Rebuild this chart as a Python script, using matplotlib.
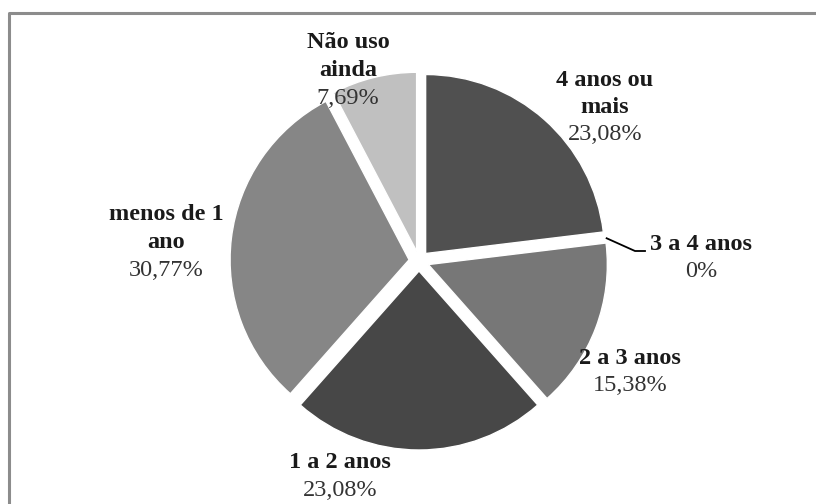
import numpy as np
import matplotlib.pyplot as plt
from matplotlib.lines import Line2D

# data
categories = ["4 anos ou\nmais", "3 a 4 anos", "2 a 3 anos", "1 a 2 anos",
              "menos de 1\nano", "Não uso\nainda"]
values = [23.08, 0.0, 15.38, 23.08, 30.77, 7.69]
pct_labels = ["23,08%", "0%", "15,38%", "23,08%", "30,77%", "7,69%"]
colors = ["#505050", "#9a9a9a", "#777777", "#474747", "#868686", "#c0c0c0"]

# label anchors (pixel coords, centre of first line)
label_pos = [(605, 80), (701, 244), (630, 358), (340, 463), (166, 215), (348, 43)]

W, H = 816, 504
CX, CY, R = 419, 261, 179
OFFSET = 10  # explode distance, pixels
LINE_H = 27.5

plt.rcParams["font.family"] = ["Liberation Serif", "DejaVu Serif"]

fig = plt.figure(figsize=(W / 100, H / 100), dpi=100)
ax = fig.add_axes([0, 0, 1, 1])

# explode is in data units here (pixels)
ax.pie(values, explode=[OFFSET] * len(values), colors=colors,
       startangle=90, counterclock=False, center=(CX, H - CY), radius=R,
       wedgeprops=dict(edgecolor="white", linewidth=1.0))
ax.set_xlim(0, W)
ax.set_ylim(0, H)
ax.set_aspect("equal")
ax.axis("off")

# frame (left and top only visible)
ax.add_line(Line2D([9, 9, W + 5], [-5, H - 13, H - 13], color="#8c8c8c", lw=2.2))

for name, pct, (x, y) in zip(categories, pct_labels, label_pos):
    lines = name.split("\n")
    for i, ln in enumerate(lines):
        ax.text(x, H - (y + i * LINE_H), ln, ha="center", va="center",
                fontsize=17.5, fontweight="bold", color="#1a1a1a")
    ax.text(x, H - (y + len(lines) * LINE_H), pct, ha="center", va="center",
            fontsize=17.5, color="#333333")

# leader line for the zero slice
total = sum(values)
theta = np.deg2rad(360 * sum(values[:1]) / total)
r_edge = R + OFFSET
px = CX + r_edge * np.sin(theta)
py = CY - r_edge * np.cos(theta)
ax.plot([px, 635, 645], [H - py, H - 251, H - 251], color="black", lw=1.3)

fig.savefig("out.png", dpi=100)
